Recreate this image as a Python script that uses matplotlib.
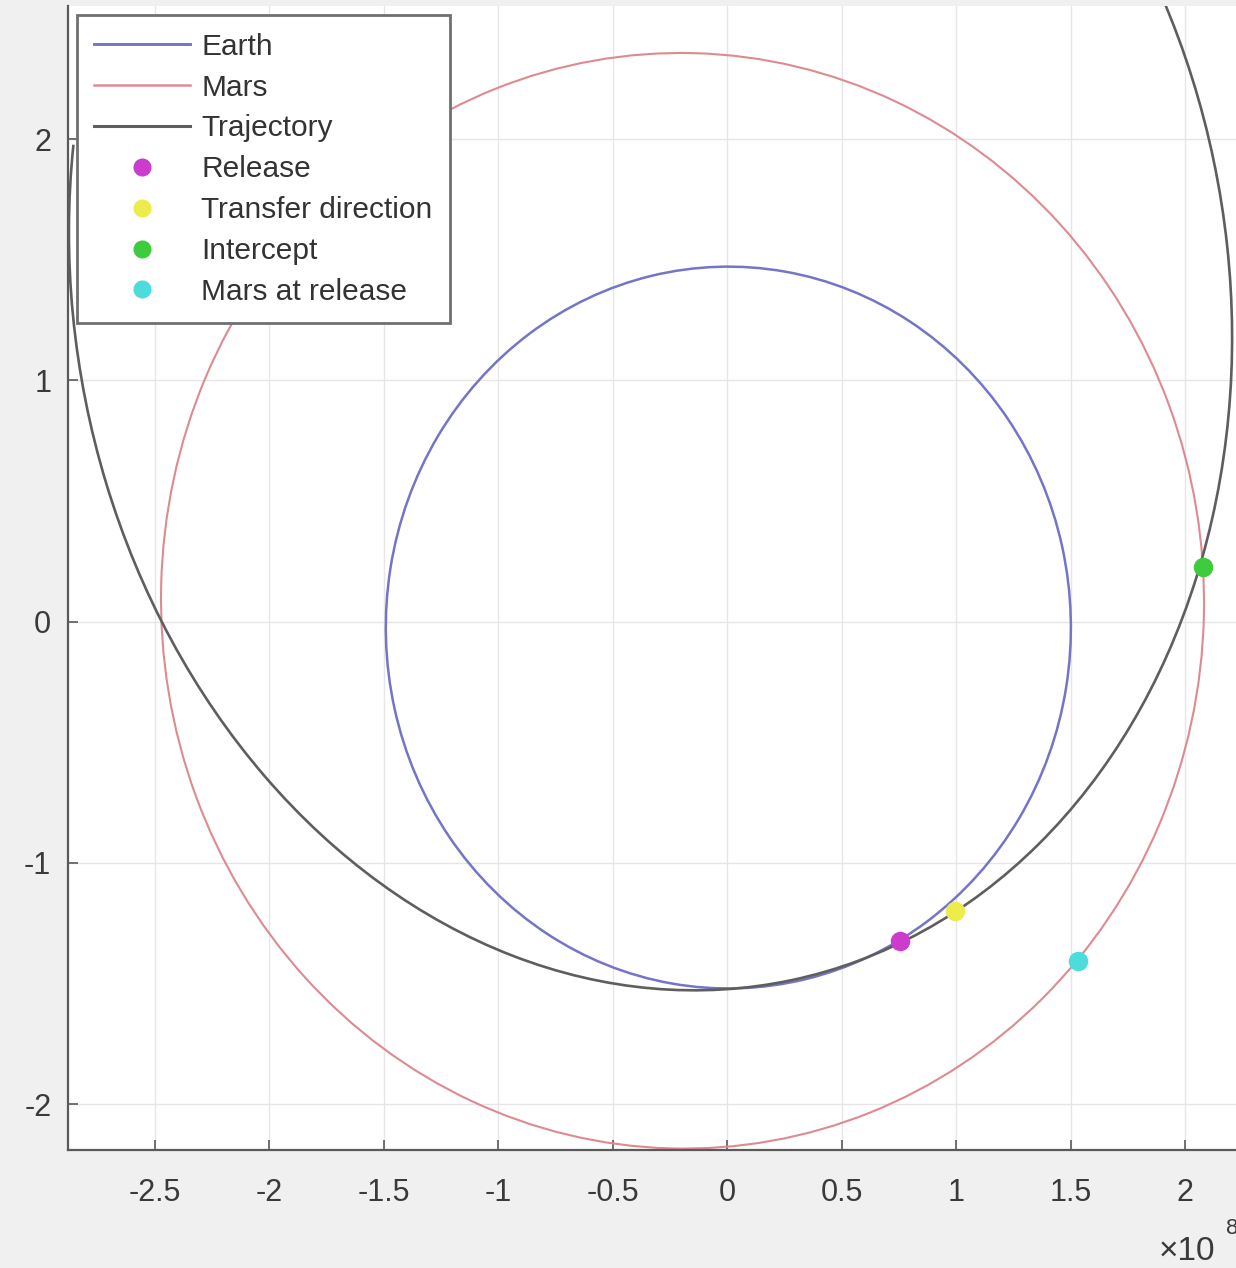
import matplotlib
matplotlib.use("Agg")
import matplotlib.pyplot as plt
from matplotlib.patches import Arc
from matplotlib.lines import Line2D

plt.rcParams['font.family'] = ['Liberation Sans', 'DejaVu Sans']

# orbits as ellipses, distances in 1e8 km
orbit_names = ['Earth', 'Mars', 'Trajectory']
orbit_cx = [0.0056, -0.1945, -0.3343]
orbit_cy = [-0.0244, 0.0866, 1.3953]
orbit_w = [2.992, 4.558, 5.894]
orbit_h = [2.9916, 4.538, 5.0245]
orbit_angle = [103.0, -24.0, -76.0]
orbit_theta1 = [0.0, 0.0, 243.0]
orbit_theta2 = [360.0, 360.0, 112.0]
orbit_colors = ['#7474c8', '#de8a92', '#5e5e5e']
orbit_lw = [1.8, 1.5, 1.9]

# event points (x, y) in 1e8 km
point_names = ['Release', 'Transfer direction', 'Intercept', 'Mars at release']
point_x = [0.755, 0.996, 2.079, 1.533]
point_y = [-1.324, -1.200, 0.226, -1.407]
point_colors = ['#cc3ccc', '#ecec4a', '#3ccc3c', '#4cdcdc']

x_ticks = [-2.5, -2, -1.5, -1, -0.5, 0, 0.5, 1, 1.5, 2]
x_ticklabels = ['-2.5', '-2', '-1.5', '-1', '-0.5', '0', '0.5', '1', '1.5', '2']
y_ticks = [-2, -1, 0, 1, 2]
y_ticklabels = ['-2', '-1', '0', '1', '2']

fig = plt.figure(figsize=(12.36, 12.68), dpi=100, facecolor='#f0f0f0')
W, H = 1236, 1268
x0, x1 = -2.878, 2.25
y0, y1 = -2.19, 2.55
px_x, px_y = 229.0, 241.25
ax = fig.add_axes([68 / W, 118 / H, (x1 - x0) * px_x / W, (y1 - y0) * px_y / H])
ax.set_facecolor('white')

for i in range(len(orbit_names)):
    ax.add_patch(Arc((orbit_cx[i], orbit_cy[i]), orbit_w[i], orbit_h[i],
                     angle=orbit_angle[i], theta1=orbit_theta1[i],
                     theta2=orbit_theta2[i], color=orbit_colors[i],
                     linewidth=orbit_lw[i]))

for i in range(len(point_names)):
    ax.plot(point_x[i], point_y[i], 'o', ms=13, color=point_colors[i],
            mec=point_colors[i], zorder=5)

ax.set_xlim(x0, x1)
ax.set_ylim(y0, y1)
ax.set_xticks(x_ticks)
ax.set_xticklabels(x_ticklabels)
ax.set_yticks(y_ticks)
ax.set_yticklabels(y_ticklabels)
ax.grid(True, color='#e6e6e6', linewidth=1.0)
ax.set_axisbelow(True)

for s in ['top', 'right']:
    ax.spines[s].set_visible(False)
for s in ['left', 'bottom']:
    ax.spines[s].set_color('#5a5a5a')
    ax.spines[s].set_linewidth(1.6)

ax.tick_params(axis='both', direction='in', length=7, width=1.2,
               color='#5a5a5a', labelsize=22, labelcolor='#3a3a3a')
ax.tick_params(axis='x', pad=20)
ax.tick_params(axis='y', pad=12)

handles = []
for i in range(len(orbit_names)):
    handles.append(Line2D([], [], color=orbit_colors[i], lw=orbit_lw[i] + 0.3,
                          label=orbit_names[i]))
for i in range(len(point_names)):
    handles.append(Line2D([], [], ls='none', marker='o', ms=12,
                          color=point_colors[i], label=point_names[i]))

leg = ax.legend(handles=handles, loc='upper left', bbox_to_anchor=(0.0, 1.0),
                fontsize=21.5, handlelength=3.2, handletextpad=0.38,
                labelspacing=0.43, borderpad=0.58, borderaxespad=0.3,
                fancybox=False, framealpha=1.0)
leg.get_frame().set_edgecolor('#707070')
leg.get_frame().set_linewidth(2.0)
for t in leg.get_texts():
    t.set_color('#333333')

fig.text(1159 / W, 1 - 1260 / H, '×10', fontsize=24, color='#3a3a3a',
         ha='left', va='baseline')
fig.text(1226 / W, 1 - 1234 / H, '8', fontsize=16, color='#3a3a3a',
         ha='left', va='baseline')

fig.savefig('out.png', dpi=100, facecolor=fig.get_facecolor())
